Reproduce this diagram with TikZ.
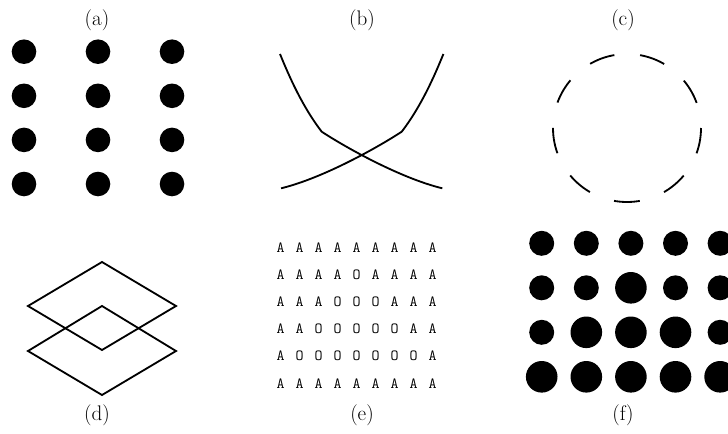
\documentclass[tikz,border=0pt]{standalone}
\usepackage{tikz}

\begin{document}
\begin{tikzpicture}[
    x=0.025cm, y=-0.025cm,
    rotulo/.style={font=\fontsize{15}{18}\selectfont, inner sep=0pt},
    traco/.style={draw, line width=1.3pt},
    tracejado/.style={draw, line width=1.3pt, dash pattern=on 0.646cm off 0.646cm},
    letra/.style={font=\ttfamily\fontsize{11}{12}\selectfont, inner sep=0pt}
]
    \useasboundingbox (0,0) rectangle (728,433);

    \node[rotulo] (rot-a) at (97,20)  {(a)};
    \node[rotulo] (rot-b) at (362,20) {(b)};
    \node[rotulo] (rot-c) at (623,20) {(c)};
    \node[rotulo] (rot-d) at (97,415) {(d)};
    \node[rotulo] (rot-e) at (362,415) {(e)};
    \node[rotulo] (rot-f) at (623,415) {(f)};

    % (a) grade de pontos
    \foreach \i in {1,...,4}
        \foreach \j in {1,...,3}
            \fill ({24+74*(\j-1)}, {51.7+44.1*(\i-1)}) circle (12.3);

    % (b) curvas cruzadas
    \draw[traco] (280,54) .. controls (289,76) and (302,106) .. (321.7,131.7)
        .. controls (345,147) and (400,178) .. (442.3,188.3);
    \draw[traco] (443.4,54) .. controls (434.4,76) and (421.4,106) .. (401.7,131.7)
        .. controls (378.4,147) and (323.4,178) .. (281.1,188.3);

    % (c) circulo tracejado
    \draw[tracejado] (627,128) circle (74);

    % (d) losangos
    \draw[traco] (102,262) -- (28,306) -- (102,350) -- (176,306) -- cycle;
    \draw[traco] (102,306) -- (28,351) -- (102,395) -- (176,351) -- cycle;

    % (e) letras
    \foreach \linha [count=\i] in {{A,A,A,A,A,A,A,A,A},{A,A,A,A,O,A,A,A,A},{A,A,A,O,O,O,A,A,A},
                                   {A,A,O,O,O,O,O,A,A},{A,O,O,O,O,O,O,O,A},{A,A,A,A,A,A,A,A,A}}
        \foreach \c [count=\j] in \linha
            \node[letra] (e-\i-\j) at ({280.7+19*(\j-1)}, {247.3+27.2*(\i-1)}) {\c};

    % (f) pontos de tamanhos diferentes
    \foreach \i in {1,...,4}
        \foreach \j in {1,...,5} {
            \pgfmathsetmacro{\raio}{abs(\j-3) < \i-1.5 ? 15.8 : 12.5}
            \fill ({541.7+44.6*(\j-1)}, {243.3+44.5*(\i-1)}) circle (\raio);
        }
\end{tikzpicture}
\end{document}
